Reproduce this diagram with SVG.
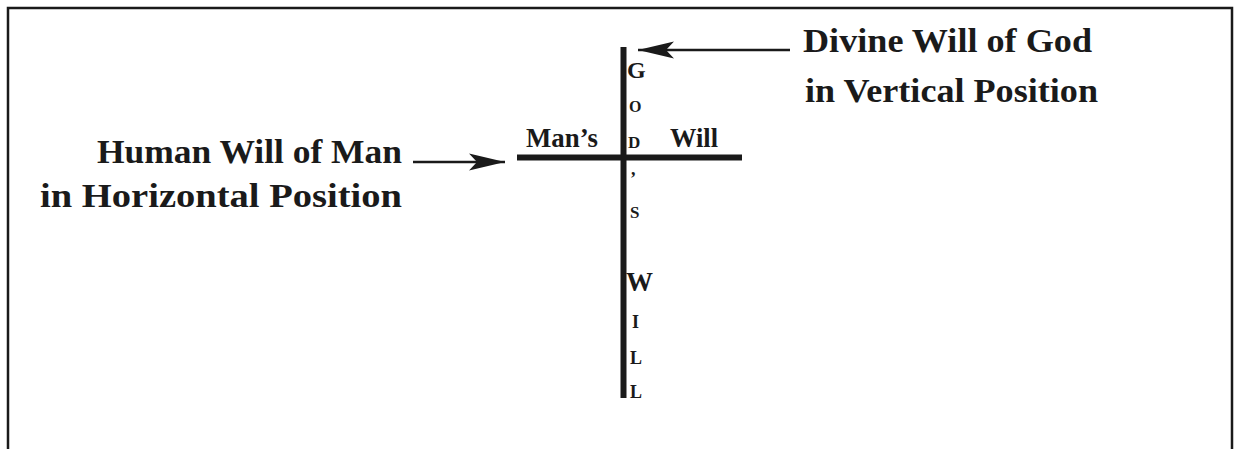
<svg xmlns="http://www.w3.org/2000/svg" width="1236" height="449" viewBox="0 0 1236 449">
<style>
.lbl{font-family:"Liberation Serif","Times New Roman",serif;font-weight:bold;fill:#1a1a1a}
.big{font-size:34px}
.mid{font-size:27px}
.bar{stroke:#1a1a1a;stroke-width:6;fill:none}
.conn{stroke:#1a1a1a;stroke-width:2.5;fill:none}
</style>
<defs>
<marker id="ah" markerWidth="38" markerHeight="20" refX="36" refY="10" orient="auto" markerUnits="userSpaceOnUse">
<path d="M0,1.5 L36,10 L0,18.5 L8,10 Z" fill="#1a1a1a"/>
</marker>
</defs>
<rect x="0" y="0" width="1236" height="449" fill="#fff"/>
<path d="M8,449 V8 H1232 V449" fill="none" stroke="#1a1a1a" stroke-width="2.5"/>
<g id="cross">
<line class="bar" x1="623.5" y1="47" x2="623.5" y2="398"/>
<line class="bar" x1="517" y1="157.5" x2="742" y2="157.5"/>
</g>
<g id="vertical-letters" class="lbl">
<text x="627" y="78" font-size="24">G</text>
<text x="629" y="112" font-size="16">O</text>
<text x="628" y="148" font-size="17">D</text>
<text x="631" y="175" font-size="18">,</text>
<text x="630" y="218" font-size="17">S</text>
<text x="626" y="291" font-size="27">W</text>
<text x="632" y="328" font-size="18">I</text>
<text x="630" y="364" font-size="18">L</text>
<text x="630" y="398" font-size="18">L</text>
</g>
<g id="mans-will" class="lbl mid">
<text x="526" y="147" textLength="72" lengthAdjust="spacingAndGlyphs">Man’s</text>
<text x="670" y="147" textLength="48" lengthAdjust="spacingAndGlyphs">Will</text>
</g>
<g id="divine-label" class="lbl big">
<text x="803" y="52" textLength="289" lengthAdjust="spacingAndGlyphs">Divine Will of God</text>
<text x="805" y="102" textLength="293" lengthAdjust="spacingAndGlyphs">in Vertical Position</text>
</g>
<g id="human-label" class="lbl big">
<text x="97" y="163" textLength="305" lengthAdjust="spacingAndGlyphs">Human Will of Man</text>
<text x="40" y="207" textLength="362" lengthAdjust="spacingAndGlyphs">in Horizontal Position</text>
</g>
<g id="connectors">
<line class="conn" x1="790" y1="50" x2="638" y2="50" marker-end="url(#ah)"/>
<line class="conn" x1="413" y1="162" x2="505" y2="162" marker-end="url(#ah)"/>
</g>
</svg>
